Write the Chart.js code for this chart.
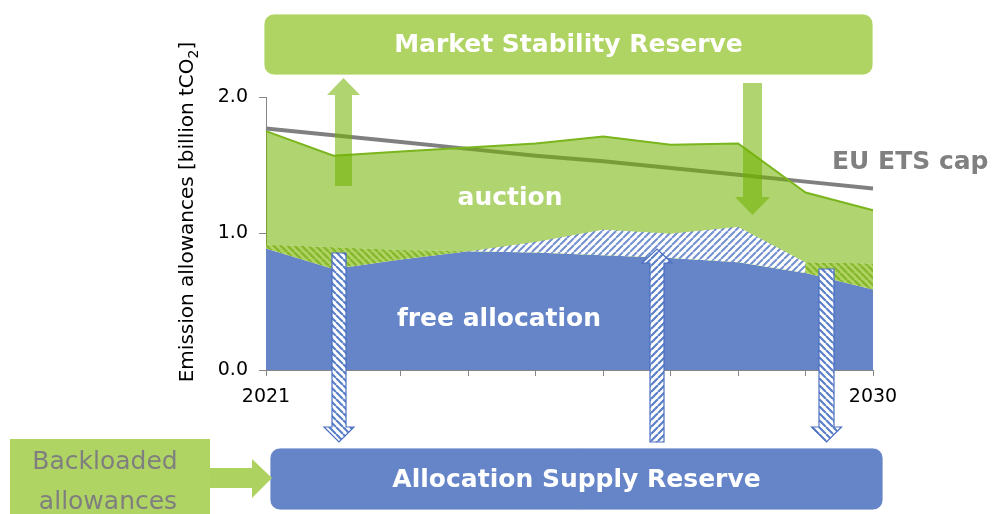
<!DOCTYPE html>
<html lang="en">
<head>
<meta charset="UTF-8">
<title>EU ETS emission allowances 2021-2030</title>
<script src="https://cdn.jsdelivr.net/npm/chart.js"></script>
<style>
  body { margin: 0; background: #fff; }
</style>
</head>
<body>
<canvas id="etsChart" width="993" height="514"></canvas>
<script>
// values in billion tCO2
const years = ['2021', '2022', '2023', '2024', '2025', '2026', '2027', '2028', '2029', '2030'];
const auctionTop = [1.75, 1.57, 1.60, 1.63, 1.66, 1.71, 1.65, 1.66, 1.30, 1.17];
const hatchTop = [0.92, 0.90, 0.88, 0.87, 0.94, 1.03, 1.00, 1.05, 0.79, 0.78];
// part of the hatched band released from the reserve (blue), null elsewhere
const asrBandTop = [null, null, null, 0.87, 0.94, 1.03, 1.00, 1.05, 0.79, null];
const freeAllocation = [0.89, 0.74, 0.81, 0.87, 0.86, 0.84, 0.82, 0.79, 0.71, 0.59];
const etsCap = [1.77, 1.72, 1.67, 1.62, 1.57, 1.53, 1.48, 1.43, 1.38, 1.33];
const yTicks = [0, 1, 2];

const GREEN = '#b0d464';
const GREEN_DARK = '#7ab51d';
const BLUE = '#6585c8';
const GREY = '#808080';
const FONT = '"DejaVu Sans", Verdana, sans-serif';

Chart.defaults.font.family = FONT;

const canvas = document.getElementById('etsChart');
const mainCtx = canvas.getContext('2d');

function hatch(bg, fg, dir, lw) {
    const s = 7;
    const c = document.createElement('canvas');
    c.width = s;
    c.height = s;
    const g = c.getContext('2d');
    g.fillStyle = bg;
    g.fillRect(0, 0, s, s);
    g.strokeStyle = fg;
    g.lineWidth = lw;
    g.beginPath();
    for (const o of [-s, 0, s]) {
        if (dir === '/') { g.moveTo(o, s); g.lineTo(o + s, 0); }
        else { g.moveTo(o, 0); g.lineTo(o + s, s); }
    }
    g.stroke();
    return mainCtx.createPattern(c, 'repeat');
}

const greenHatch = hatch(GREEN, '#86b82e', '\\', 2.4);
const blueHatch = hatch('#ffffff', '#7391d0', '/', 2.0);
const arrowHatchDown = hatch('#ffffff', '#5b7fc8', '\\', 2.2);
const arrowHatchUp = hatch('#ffffff', '#5b7fc8', '/', 2.2);

function arrowPath(ctx, cx, y0, y1, shaftW, headW, headL) {
    const dir = Math.sign(y1 - y0);
    const hb = y1 - dir * headL;
    ctx.beginPath();
    ctx.moveTo(cx - shaftW / 2, y0);
    ctx.lineTo(cx - shaftW / 2, hb);
    ctx.lineTo(cx - headW / 2, hb);
    ctx.lineTo(cx, y1);
    ctx.lineTo(cx + headW / 2, hb);
    ctx.lineTo(cx + shaftW / 2, hb);
    ctx.lineTo(cx + shaftW / 2, y0);
    ctx.closePath();
}

function roundBox(ctx, x, y, w, h, r, fill, text, color) {
    ctx.beginPath();
    ctx.roundRect(x, y, w, h, r);
    ctx.fillStyle = fill;
    ctx.fill();
    ctx.strokeStyle = 'rgba(255,255,255,0.8)';
    ctx.lineWidth = 1;
    ctx.stroke();
    ctx.fillStyle = color;
    ctx.font = 'bold 25px ' + FONT;
    ctx.textAlign = 'center';
    ctx.textBaseline = 'middle';
    ctx.fillText(text, x + w / 2, y + h / 2 + 1);
}

const annotations = {
    id: 'annotations',
    afterDraw(chart) {
        const ctx = chart.ctx;
        ctx.save();

        // reserve boxes
        roundBox(ctx, 264, 14, 609, 61, 10, GREEN, 'Market Stability Reserve', '#ffffff');
        roundBox(ctx, 270, 448, 613, 62, 10, BLUE, 'Allocation Supply Reserve', '#ffffff');

        // MSR in / out arrows (translucent green)
        ctx.fillStyle = 'rgba(113,178,0,0.56)';
        arrowPath(ctx, 343.5, 186, 78, 17, 33, 17);
        ctx.fill();
        arrowPath(ctx, 752.5, 83, 215, 19, 35, 18);
        ctx.fill();

        // ASR arrows (hatched blue)
        ctx.strokeStyle = '#4a6fc0';
        ctx.lineWidth = 1.2;
        ctx.fillStyle = arrowHatchDown;
        arrowPath(ctx, 339, 253, 442, 14, 30, 15);
        ctx.fill(); ctx.stroke();
        arrowPath(ctx, 826.5, 269, 442, 15, 30, 15);
        ctx.fill(); ctx.stroke();
        ctx.fillStyle = arrowHatchUp;
        arrowPath(ctx, 657, 442, 249, 14, 30, 14);
        ctx.fill(); ctx.stroke();

        // backloaded allowances box and arrow
        ctx.fillStyle = GREEN;
        ctx.fillRect(10, 439, 200, 80);
        ctx.beginPath();
        ctx.moveTo(210, 468);
        ctx.lineTo(252, 468);
        ctx.lineTo(252, 459);
        ctx.lineTo(272, 478);
        ctx.lineTo(252, 498);
        ctx.lineTo(252, 488);
        ctx.lineTo(210, 488);
        ctx.closePath();
        ctx.fillStyle = '#aed25f';
        ctx.fill();
        ctx.fillStyle = '#7f7f7f';
        ctx.font = '25px ' + FONT;
        ctx.textAlign = 'center';
        ctx.textBaseline = 'middle';
        ctx.fillText('Backloaded', 105, 462);
        ctx.fillText('allowances', 108, 502);

        // in-chart labels
        ctx.font = 'bold 25px ' + FONT;
        ctx.fillStyle = '#ffffff';
        ctx.fillText('auction', 510, 198);
        ctx.fillText('free allocation', 499, 319);
        ctx.fillStyle = GREY;
        ctx.textAlign = 'left';
        ctx.fillText('EU ETS cap', 832, 162);

        // y axis title with subscript
        ctx.translate(188, 212);
        ctx.rotate(-Math.PI / 2);
        ctx.fillStyle = '#000';
        const mainTxt = 'Emission allowances [billion tCO';
        ctx.font = '20px ' + FONT;
        const w1 = ctx.measureText(mainTxt).width;
        const w3 = ctx.measureText(']').width;
        ctx.font = '14px ' + FONT;
        const w2 = ctx.measureText('2').width;
        const x = -(w1 + w2 + w3) / 2;
        ctx.textAlign = 'left';
        ctx.textBaseline = 'middle';
        ctx.font = '20px ' + FONT;
        ctx.fillText(mainTxt, x, 0);
        ctx.font = '14px ' + FONT;
        ctx.fillText('2', x + w1, 6);
        ctx.font = '20px ' + FONT;
        ctx.fillText(']', x + w1 + w2, 0);

        ctx.restore();
    }
};

// dataset order matters: lower index is painted later (on top)
new Chart(canvas, {
    type: 'line',
    data: {
        labels: years,
        datasets: [
            {
                label: 'auction',
                data: auctionTop,
                borderColor: GREEN_DARK,
                borderWidth: 2,
                backgroundColor: 'rgba(113,178,0,0.56)',
                fill: 2,
                pointRadius: 0
            },
            {
                label: 'from reserve',
                data: asrBandTop,
                borderColor: 'rgba(0,0,0,0)',
                borderWidth: 0,
                backgroundColor: blueHatch,
                fill: 3,
                pointRadius: 0
            },
            {
                label: 'hatched band',
                data: hatchTop,
                borderColor: 'rgba(0,0,0,0)',
                borderWidth: 0,
                backgroundColor: greenHatch,
                fill: 3,
                pointRadius: 0
            },
            {
                label: 'free allocation',
                data: freeAllocation,
                borderColor: 'rgba(0,0,0,0)',
                borderWidth: 0,
                backgroundColor: BLUE,
                fill: 'origin',
                pointRadius: 0
            },
            {
                label: 'EU ETS cap',
                data: etsCap,
                borderColor: GREY,
                borderWidth: 4,
                fill: false,
                pointRadius: 0
            }
        ]
    },
    options: {
        responsive: false,
        animation: false,
        layout: { padding: { top: 97, right: 120, left: 0, bottom: 0 } },
        plugins: {
            legend: { display: false },
            tooltip: { enabled: false }
        },
        scales: {
            x: {
                grid: { drawOnChartArea: false, tickLength: 6, color: '#868686' },
                border: { color: '#868686' },
                ticks: {
                    autoSkip: false,
                    maxRotation: 0,
                    padding: 10,
                    color: '#000',
                    font: { size: 19 },
                    callback: (v, i) => (i === 0 || i === years.length - 1) ? years[i] : ''
                },
                afterFit: s => { s.height = 144; }
            },
            y: {
                min: 0,
                max: 2,
                grid: { drawOnChartArea: false, tickLength: 7, color: '#868686' },
                border: { color: '#868686' },
                ticks: {
                    padding: 11,
                    color: '#000',
                    font: { size: 19 },
                    callback: v => v.toFixed(1)
                },
                afterBuildTicks: s => { s.ticks = yTicks.map(v => ({ value: v })); },
                afterFit: s => { s.width = 266; }
            }
        }
    },
    plugins: [annotations]
});
</script>
</body>
</html>
